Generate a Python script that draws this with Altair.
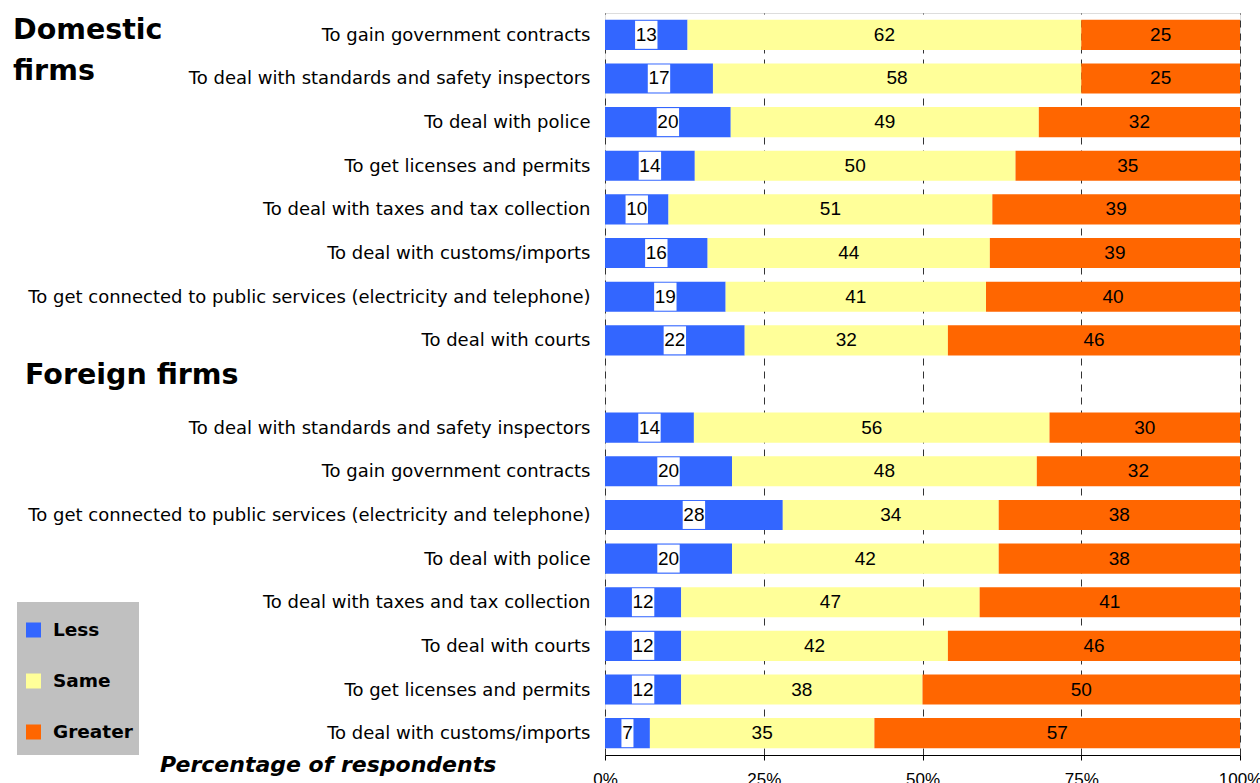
import altair as alt
import pandas as pd

# ---- data ----
categories = ["Less", "Same", "Greater"]
colors = ["#3366FF", "#FFFF99", "#FF6600"]

domestic_labels = [
    "To gain government contracts",
    "To deal with standards and safety inspectors",
    "To deal with police",
    "To get licenses and permits",
    "To deal with taxes and tax collection",
    "To deal with customs/imports",
    "To get connected to public services (electricity and telephone)",
    "To deal with courts",
]
domestic_less = [13, 17, 20, 14, 10, 16, 19, 22]
domestic_same = [62, 58, 49, 50, 51, 44, 41, 32]
domestic_greater = [25, 25, 32, 35, 39, 39, 40, 46]

foreign_labels = [
    "To deal with standards and safety inspectors",
    "To gain government contracts",
    "To get connected to public services (electricity and telephone)",
    "To deal with police",
    "To deal with taxes and tax collection",
    "To deal with courts",
    "To get licenses and permits",
    "To deal with customs/imports",
]
foreign_less = [14, 20, 28, 20, 12, 12, 12, 7]
foreign_same = [56, 48, 34, 42, 47, 42, 38, 35]
foreign_greater = [30, 32, 38, 38, 41, 46, 50, 57]

tick_values = [0, 0.25, 0.5, 0.75, 1.0]

# ---- build table ----
rows = []
keys = []
for prefix, labels, series in [
    ("D", domestic_labels, [domestic_less, domestic_same, domestic_greater]),
    ("F", foreign_labels, [foreign_less, foreign_same, foreign_greater]),
]:
    for i, lab in enumerate(labels):
        key = f"{prefix}{i}|{lab}"
        keys.append(key)
        for j, cat in enumerate(categories):
            rows.append({"key": key, "cat": cat, "order": j, "value": series[j][i]})
    if prefix == "D":
        keys.append("gap")
df = pd.DataFrame(rows)

FONT = "Liberation Sans"
WIDE = "DejaVu Sans"

yenc = alt.Y(
    "key:N",
    scale=alt.Scale(domain=keys, paddingInner=0.31, paddingOuter=0.155),
    axis=alt.Axis(
        title=None, ticks=False, domain=False, grid=False,
        labelExpr="indexof(datum.value,'|')>=0 ? split(datum.value,'|')[1] : ''",
        labelFontSize=18, labelFont=WIDE, labelColor="black",
        labelPadding=15, labelLimit=0, labelOffset=1,
    ),
)

base = alt.Chart(df).transform_stack(
    stack="value", groupby=["key"], as_=["v0", "v1"], offset="normalize",
    sort=[alt.SortField("order")],
).transform_calculate(
    mid="(datum.v0 + datum.v1) / 2",
    shp="length(toString(datum.value)) > 1 ? 'M-0.8,-1H0.8V1H-0.8Z' : 'M-0.43,-1H0.43V1H-0.43Z'",
)

xscale = alt.Scale(domain=[0, 1], nice=False, zero=True)

bars = base.mark_bar().encode(
    x=alt.X(
        "v0:Q", scale=xscale,
        axis=alt.Axis(
            values=tick_values, format=".0%", title=None,
            grid=True, gridDash=[7, 6], gridColor="#333333", gridOpacity=1, gridWidth=1,
            domainColor="black", tickColor="black", tickSize=5,
            labelFontSize=17, labelFont=FONT, labelColor="black", labelPadding=11,
            labelBaseline="top", labelFlush=False, labelOverlap=False,
        ),
    ),
    x2="v1:Q",
    y=yenc,
    color=alt.Color("cat:N", scale=alt.Scale(domain=categories, range=colors), legend=None),
)

boxes = base.transform_filter(alt.datum.cat == "Less").mark_point(
    filled=True, color="white", opacity=1, strokeWidth=0
).encode(
    x=alt.X("mid:Q", scale=xscale),
    y=yenc,
    shape=alt.Shape("shp:N", scale=None),
    size=alt.value(784),
)

texts = base.mark_text(fontSize=19, font=FONT, color="black", baseline="middle").encode(
    x=alt.X("mid:Q", scale=xscale),
    y=yenc,
    text=alt.Text("value:Q"),
)

title_font = dict(font=WIDE, fontWeight="bold", color="black", align="left", baseline="middle")
t1 = alt.Chart().mark_text(text="Domestic", fontSize=28.5, **title_font).encode(
    x=alt.value(-592), y=alt.value(17))
t2 = alt.Chart().mark_text(text="firms", fontSize=28.5, **title_font).encode(
    x=alt.value(-592), y=alt.value(58))
t3 = alt.Chart().mark_text(text="Foreign firms", fontSize=28.5, **title_font).encode(
    x=alt.value(-580), y=alt.value(362))
t4 = alt.Chart().mark_text(
    text="Percentage of respondents", fontSize=22, fontStyle="italic", **title_font
).encode(x=alt.value(-445), y=alt.value(752))

legend_bg = alt.Chart().mark_rect(color="#C0C0C0").encode(
    x=alt.value(-588), x2=alt.value(-466), y=alt.value(589), y2=alt.value(742))

legend_layers = [legend_bg]
for i, (cat, col) in enumerate(zip(categories, colors)):
    yy = 617 + 51 * i
    legend_layers.append(
        alt.Chart().mark_square(size=225, color=col, opacity=1, strokeWidth=0).encode(
            x=alt.value(-571.5), y=alt.value(yy)))
    legend_layers.append(
        alt.Chart().mark_text(text=cat, fontSize=18.5, **title_font).encode(
            x=alt.value(-552), y=alt.value(yy)))

chart = alt.layer(
    bars, boxes, texts, t1, t2, t3, t4, *legend_layers
).properties(
    width=635, height=742,
    autosize=alt.AutoSizeParams(type="none"),
    padding={"left": 605, "top": 13, "right": 20, "bottom": 28},
).configure_view(stroke=None).configure(background="white")

chart.save("out.html", embed_options={"renderer": "svg", "actions": False})
